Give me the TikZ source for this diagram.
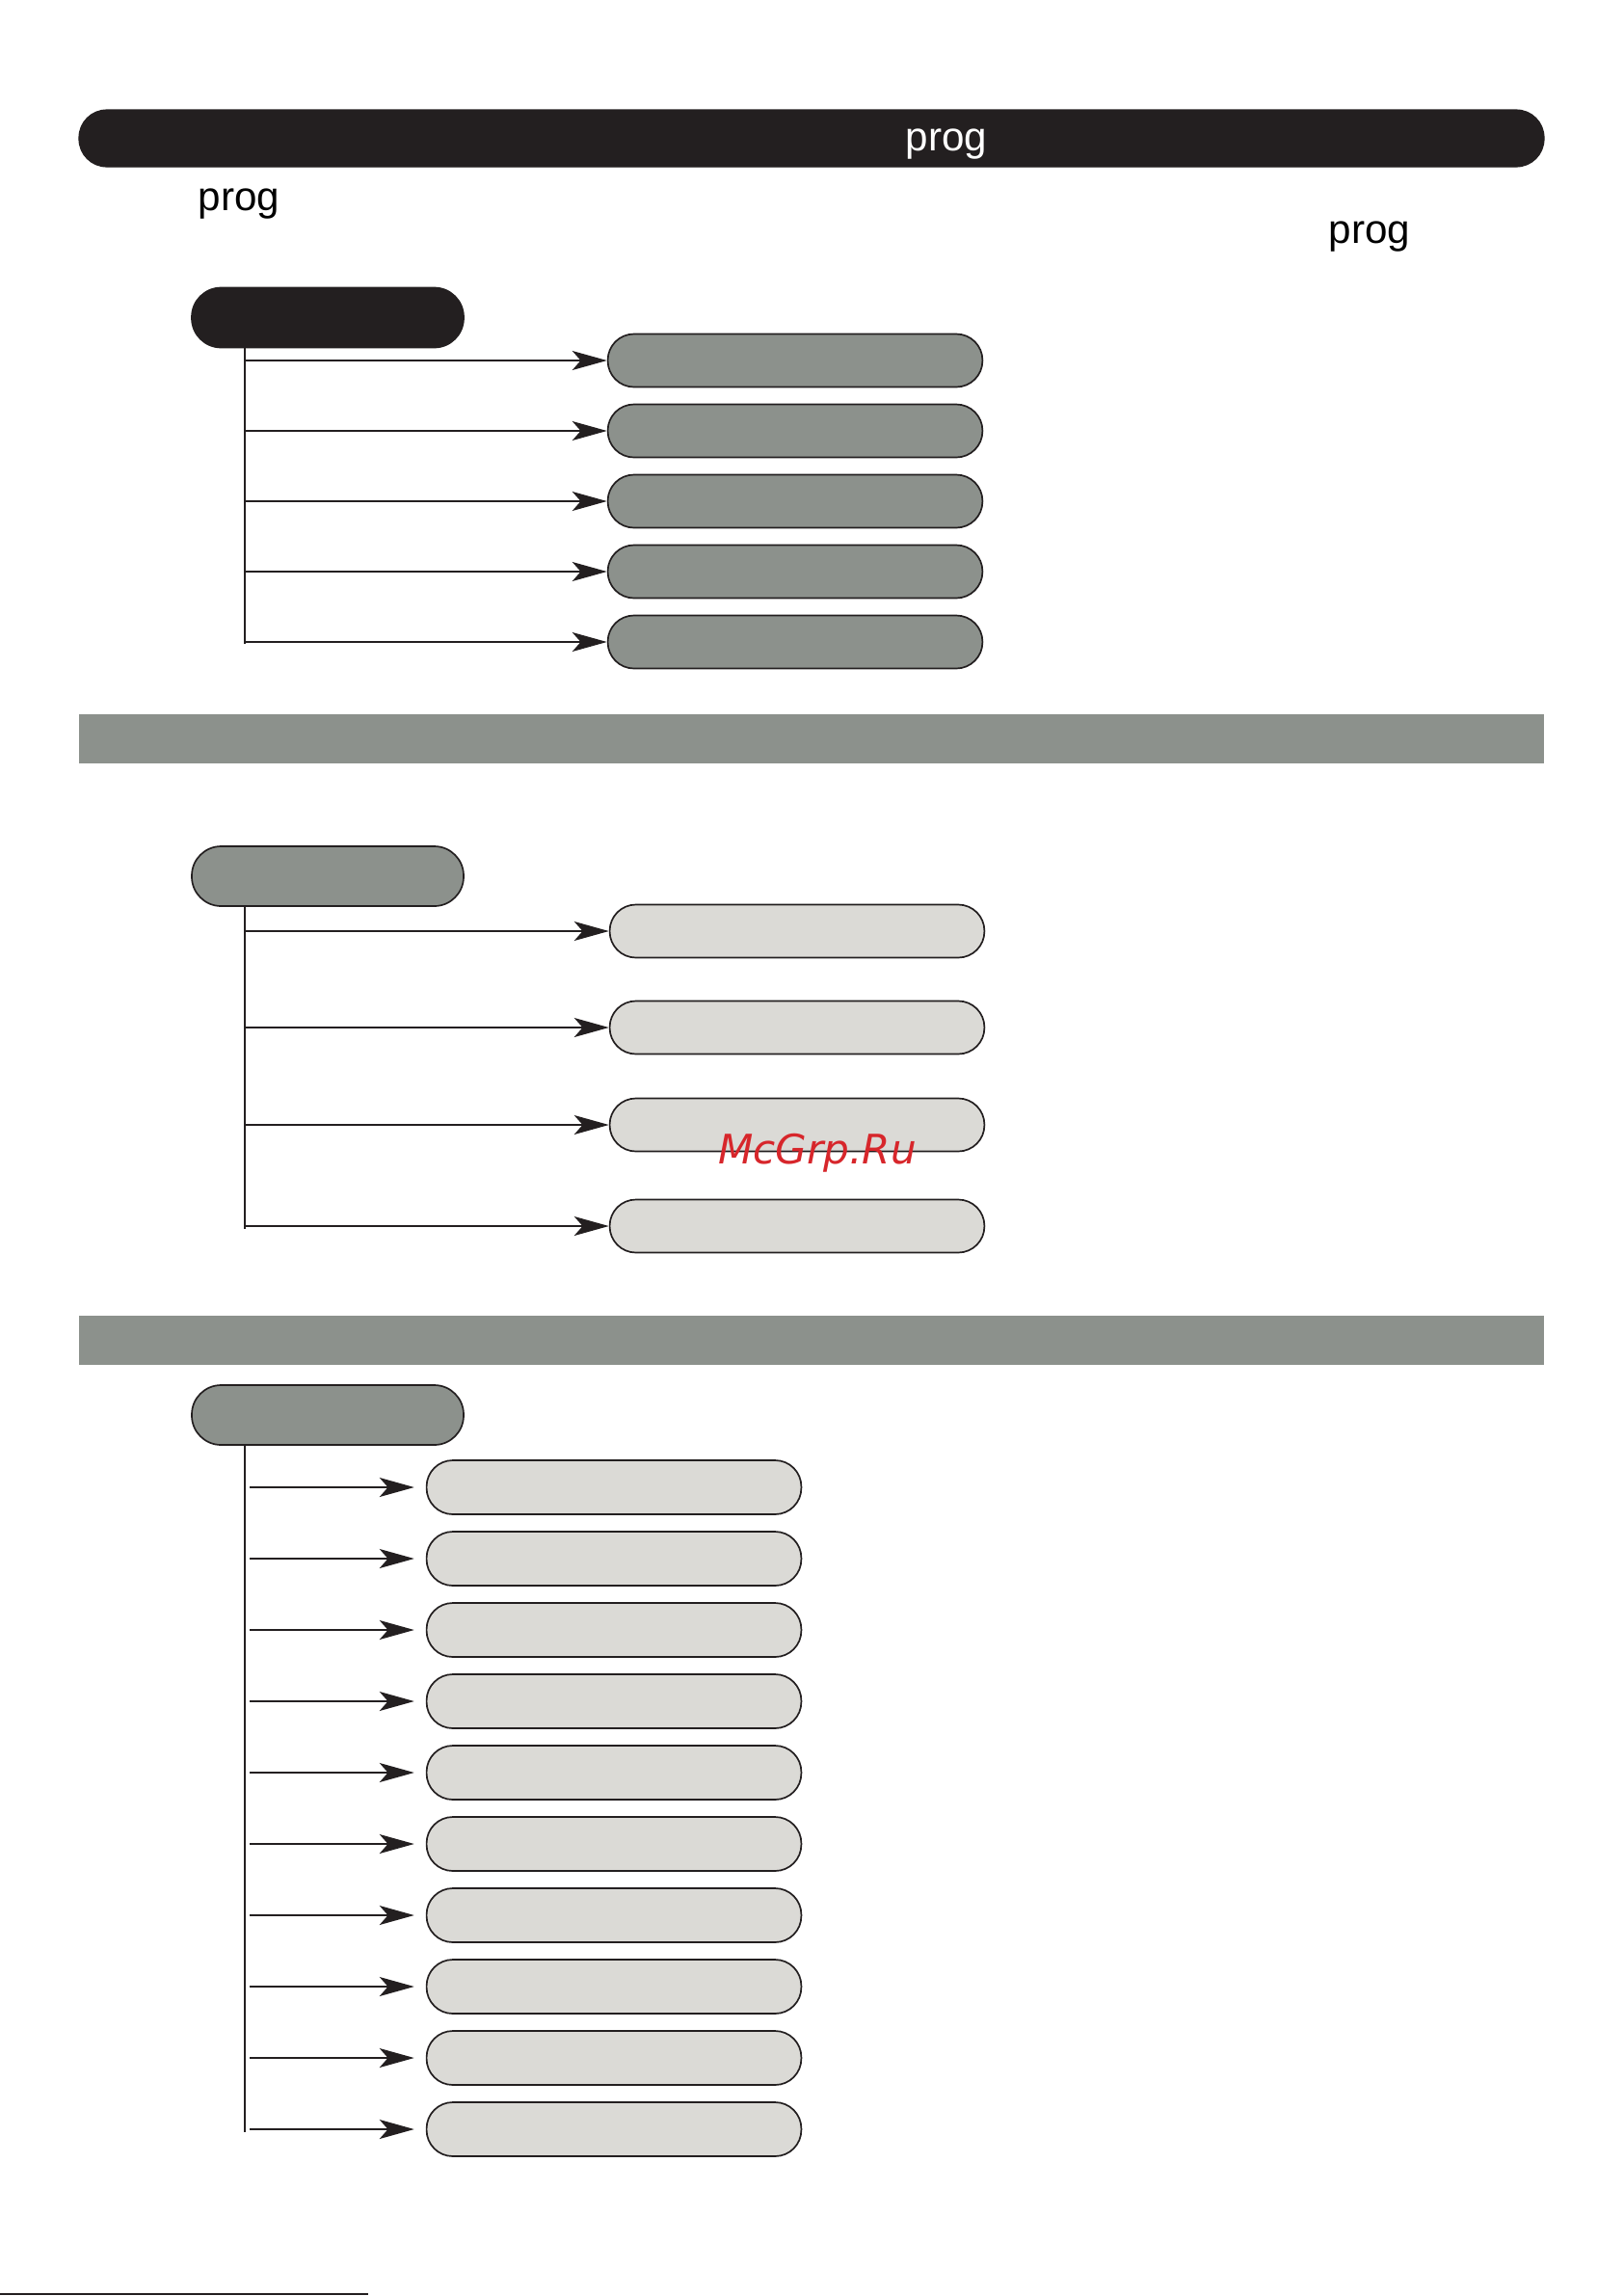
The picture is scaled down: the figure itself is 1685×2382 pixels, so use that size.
\documentclass[tikz,border=0pt]{standalone}
\usepackage{fontspec}
\setmainfont{Liberation Sans}
\newfontfamily\wmfont{DejaVu Sans}
\usepackage{tikz}
\usetikzlibrary{arrows.meta}

\definecolor{barblack}{HTML}{231F20}
\definecolor{bandgray}{HTML}{8C918C}
\definecolor{itemgray}{HTML}{DBDAD6}
\definecolor{wmred}{HTML}{D7262B}

\begin{document}
\begin{tikzpicture}[x=0.125mm, y=-0.125mm,
    titlebar/.style={draw=barblack, fill=barblack, rounded corners=3.6mm, minimum width=190mm, minimum height=7.375mm, inner sep=0pt},
    band/.style={fill=bandgray, minimum width=190mm, minimum height=6.375mm, inner sep=0pt},
    headbox/.style={draw=barblack, line width=0.6pt, rounded corners=3.8mm, minimum width=35.25mm, minimum height=7.75mm, inner sep=0pt},
    itembox/.style={draw=barblack, line width=0.6pt, rounded corners=3.4mm, minimum width=48.6mm, minimum height=6.875mm, inner sep=0pt},
    sec3box/.style={itembox, minimum height=7mm},
    prog/.style={anchor=base, inner sep=0pt, font=\fontsize{15}{18}\selectfont},
    trunk/.style={draw=barblack, line width=0.6pt},
    branch/.style={draw=barblack, line width=0.6pt, -{Stealth[length=4.5mm, width=2.5mm, inset=1.1mm]}}]

    \useasboundingbox (0,0) rectangle (1685,2382);

    \node[titlebar] (top) at (842,143.5) {};
    \node[prog, text=white] (toptext) at (982,156) {prog};
    \node[prog] (lefttext) at (248,218) {prog};
    \node[prog] (righttext) at (1421,252) {prog};

    \node[headbox, fill=barblack] (h1) at (340,329.5) {};
    \node[itembox, fill=bandgray] (b11) at (825,374) {};
    \node[itembox, fill=bandgray] (b12) at (825,447) {};
    \node[itembox, fill=bandgray] (b13) at (825,520) {};
    \node[itembox, fill=bandgray] (b14) at (825,593) {};
    \node[itembox, fill=bandgray] (b15) at (825,666) {};
    \coordinate (t1) at (254,668);

    \node[band] (band1) at (842,766.5) {};

    \node[headbox, fill=bandgray] (h2) at (340,909) {};
    \node[itembox, fill=itemgray] (b21) at (827,966) {};
    \node[itembox, fill=itemgray] (b22) at (827,1066) {};
    \node[itembox, fill=itemgray] (b23) at (827,1167) {};
    \node[itembox, fill=itemgray] (b24) at (827,1272) {};
    \coordinate (t2) at (254,1275);

    \node[band] (band2) at (842,1390.5) {};

    \node[headbox, fill=bandgray] (h3) at (340,1468) {};
    \node[sec3box, fill=itemgray] (b31) at (637,1543) {};
    \node[sec3box, fill=itemgray] (b32) at (637,1617) {};
    \node[sec3box, fill=itemgray] (b33) at (637,1691) {};
    \node[sec3box, fill=itemgray] (b34) at (637,1765) {};
    \node[sec3box, fill=itemgray] (b35) at (637,1839) {};
    \node[sec3box, fill=itemgray] (b36) at (637,1913) {};
    \node[sec3box, fill=itemgray] (b37) at (637,1987) {};
    \node[sec3box, fill=itemgray] (b38) at (637,2061) {};
    \node[sec3box, fill=itemgray] (b39) at (637,2135) {};
    \node[sec3box, fill=itemgray] (b310) at (637,2209) {};
    \coordinate (t3) at (254,2212);

    \draw[trunk] (h1.south -| t1) -- (t1);
    \draw[branch] (b11.west -| t1) -- (b11.west);
    \draw[branch] (b12.west -| t1) -- (b12.west);
    \draw[branch] (b13.west -| t1) -- (b13.west);
    \draw[branch] (b14.west -| t1) -- (b14.west);
    \draw[branch] (b15.west -| t1) -- (b15.west);

    \draw[trunk] (h2.south -| t2) -- (t2);
    \draw[branch] (b21.west -| t2) -- (b21.west);
    \draw[branch] (b22.west -| t2) -- (b22.west);
    \draw[branch] (b23.west -| t2) -- (b23.west);
    \draw[branch] (b24.west -| t2) -- (b24.west);

    \draw[trunk] (h3.south -| t3) -- (t3);
    \draw[branch, shorten <=0.6mm, shorten >=1.5mm] (b31.west -| t3) -- (b31.west);
    \draw[branch, shorten <=0.6mm, shorten >=1.5mm] (b32.west -| t3) -- (b32.west);
    \draw[branch, shorten <=0.6mm, shorten >=1.5mm] (b33.west -| t3) -- (b33.west);
    \draw[branch, shorten <=0.6mm, shorten >=1.5mm] (b34.west -| t3) -- (b34.west);
    \draw[branch, shorten <=0.6mm, shorten >=1.5mm] (b35.west -| t3) -- (b35.west);
    \draw[branch, shorten <=0.6mm, shorten >=1.5mm] (b36.west -| t3) -- (b36.west);
    \draw[branch, shorten <=0.6mm, shorten >=1.5mm] (b37.west -| t3) -- (b37.west);
    \draw[branch, shorten <=0.6mm, shorten >=1.5mm] (b38.west -| t3) -- (b38.west);
    \draw[branch, shorten <=0.6mm, shorten >=1.5mm] (b39.west -| t3) -- (b39.west);
    \draw[branch, shorten <=0.6mm, shorten >=1.5mm] (b310.west -| t3) -- (b310.west);

    \node[anchor=base, inner sep=0pt, text=wmred, font=\wmfont\itshape\fontsize{15}{18}\selectfont] (wmark) at (848,1207) {McGrp.Ru};

    \draw[barblack, line width=0.9pt] (0,2380) -- (382,2380);

\end{tikzpicture}
\end{document}
